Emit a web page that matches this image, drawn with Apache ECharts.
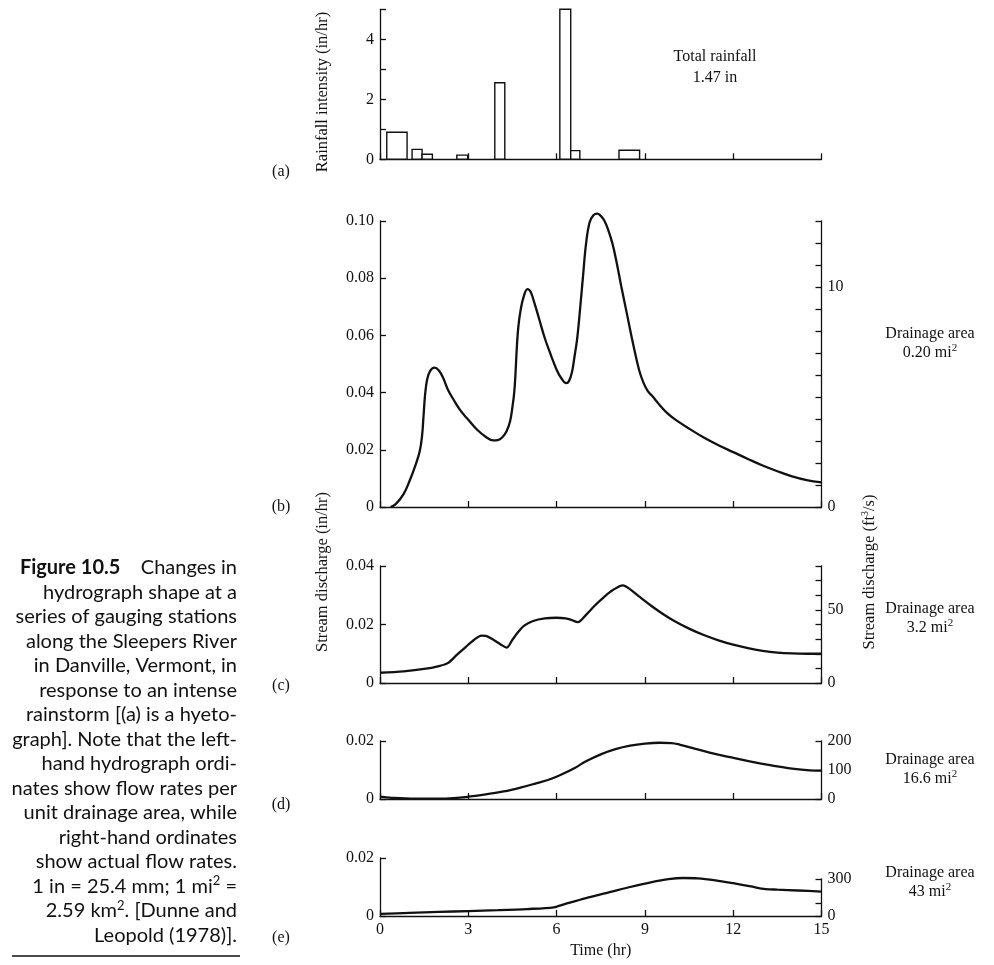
<!DOCTYPE html>
<html>
<head>
<meta charset="utf-8">
<script src="https://cdn.jsdelivr.net/npm/echarts@6/dist/echarts.min.js"></script>
<style>
html,body{margin:0;padding:0;background:#fff;}
#chart{width:994px;height:965px;}
</style>
</head>
<body>
<div id="chart"></div>
<script>
// ---------- DATA ----------
// (a) hyetograph: rainfall blocks (start hr, end hr, intensity in/hr)
const rainStart = [0.23, 1.09, 1.43, 2.61, 3.90, 6.11, 6.48, 8.12];
const rainEnd   = [0.92, 1.43, 1.78, 2.98, 4.24, 6.48, 6.79, 8.82];
const rainRate  = [0.90, 0.33, 0.17, 0.14, 2.55, 5.00, 0.29, 0.30];

// (b) drainage area 0.20 mi2 : [time hr, discharge in/hr]
const hydroB = [[0.36,0],[0.55,0.0012],[0.8,0.0045],[1.0,0.009],[1.2,0.0145],[1.35,0.0195],[1.43,0.025],
  [1.48,0.032],[1.53,0.039],[1.6,0.0445],[1.7,0.0475],[1.85,0.0487],[2.0,0.0477],[2.15,0.0450],[2.3,0.0412],
  [2.5,0.0375],[2.75,0.0335],[3.0,0.0305],[3.3,0.027],[3.6,0.0245],[3.85,0.0233],[4.0,0.0234],[4.15,0.0243],
  [4.3,0.0265],[4.42,0.0300],[4.5,0.0350],[4.56,0.040],[4.6,0.046],[4.65,0.056],[4.7,0.063],[4.78,0.069],
  [4.88,0.0735],[5.01,0.0762],[5.12,0.0752],[5.25,0.0712],[5.4,0.066],[5.6,0.059],[5.8,0.0533],[6.0,0.048],
  [6.15,0.0452],[6.33,0.0433],[6.42,0.0440],[6.52,0.047],[6.6,0.052],[6.7,0.059],[6.8,0.0695],[6.9,0.081],
  [7.0,0.092],[7.12,0.0995],[7.25,0.102],[7.38,0.1026],[7.5,0.1018],[7.62,0.1002],[7.75,0.097],[7.9,0.092],
  [8.05,0.085],[8.2,0.077],[8.4,0.067],[8.6,0.057],[8.8,0.048],[8.95,0.0435],[9.1,0.0405],[9.25,0.0388],
  [9.5,0.0357],[9.76,0.0328],[10.0,0.0308],[10.5,0.0274],[11.0,0.0243],[11.5,0.0216],[12.0,0.0192],
  [12.5,0.0168],[13.0,0.0145],[13.5,0.0125],[14.0,0.0107],[14.5,0.0094],[15.0,0.0086]];

// (c) drainage area 3.2 mi2
const hydroC = [[0,0.0035],[0.8,0.004],[1.5,0.0048],[2.0,0.0058],[2.3,0.0068],[2.6,0.0095],[2.9,0.0122],
  [3.2,0.0148],[3.45,0.0162],[3.6,0.0161],[3.85,0.0148],[4.1,0.0132],[4.3,0.0121],[4.5,0.0148],[4.7,0.0175],
  [4.9,0.0196],[5.2,0.0212],[5.6,0.0221],[6.0,0.0223],[6.3,0.0221],[6.5,0.0216],[6.72,0.0208],[7.0,0.0233],
  [7.3,0.0265],[7.6,0.0293],[7.9,0.0317],[8.25,0.0334],[8.5,0.032],[8.8,0.0296],[9.2,0.0265],[9.6,0.0237],
  [10.0,0.0212],[10.5,0.0186],[11.0,0.0164],[11.5,0.0146],[12.0,0.0131],[12.5,0.0119],[13.0,0.011],
  [13.5,0.0104],[14.0,0.0101],[14.5,0.01],[15.0,0.01]];

// (d) drainage area 16.6 mi2
const hydroD = [[0,0.0008],[0.4,0.0004],[1.2,0.0001],[2.0,0.0001],[2.5,0.0003],[3.0,0.0008],[3.6,0.0016],
  [4.2,0.0026],[4.8,0.0040],[5.3,0.0054],[5.8,0.0069],[6.2,0.0086],[6.6,0.0106],[7.0,0.013],[7.5,0.0154],
  [8.0,0.0172],[8.5,0.0184],[9.0,0.0191],[9.5,0.0194],[9.9,0.0193],[10.2,0.0187],[10.6,0.0176],[11.2,0.016],
  [11.9,0.0144],[12.6,0.0129],[13.3,0.0116],[14.0,0.0105],[14.6,0.0099],[15.0,0.0098]];

// (e) drainage area 43 mi2
const hydroE = [[0,0.0007],[1,0.0011],[2,0.0014],[3,0.0017],[4,0.002],[5,0.0024],[5.9,0.003],[6.3,0.0042],
  [7.0,0.0062],[7.8,0.0082],[8.5,0.0100],[9.2,0.0116],[9.8,0.0127],[10.3,0.0131],[10.8,0.013],[11.4,0.0123],
  [12.0,0.0113],[12.6,0.0102],[13.1,0.0093],[13.5,0.0091],[14.2,0.0088],[15,0.0084]];

// tick label lists
const timeLabels   = [0, 3, 6, 9, 12, 15];
const rainLabels   = [0, 2, 4];
const rightLabelsB = [0, 10];
const rightLabelsC = [0, 50];
const rightLabelsD = [0, 100, 200];
const rightTicksE  = [0, 100, 300];
const rightLabelsE = [0, 300];

const drainageAreas = ['0.20', '3.2', '16.6', '43'];
const panelLetters = ['(a)', '(b)', '(c)', '(d)', '(e)'];
const captionLines = [
  '{b|Figure 10.5}    Changes in',
  'hydrograph shape at a',
  'series of gauging stations',
  'along the Sleepers River',
  'in Danville, Vermont, in',
  'response to an intense',
  'rainstorm [(a) is a hyeto-',
  'graph]. Note that the left-',
  'hand hydrograph ordi-',
  'nates show flow rates per',
  'unit drainage area, while',
  'right-hand ordinates',
  'show actual flow rates.',
  '1 in = 25.4 mm; 1 mi{s|2} =',
  '2.59 km{s|2}. [Dunne and',
  'Leopold (1978)].'
];

// ---------- LAYOUT ----------
const SERIF = 'Liberation Serif, Times New Roman, serif';
const SANS = 'Lato, Open Sans, sans-serif';
const INK = '#111';
const L = 380, W = 441.5;
const grids = [
  {left:L, width:W, top:9.3, height:150},
  {left:L, width:W, top:221, height:286},
  {left:L, width:W, top:566, height:117},
  {left:L, width:W, top:741, height:58},
  {left:L, width:W, top:858, height:58},
  {left:L, width:W, top:879, height:37}
];

const lineStyleAxis = {color: INK, width: 1.3};
function xAxis(gi, showLabels, hidden) {
  return {
    type:'value', gridIndex:gi, min:0, max:15, interval:3,
    show: !hidden,
    axisLine:{show:true, onZero:false, lineStyle:lineStyleAxis},
    axisTick:{show:true, inside:true, length:6, lineStyle:lineStyleAxis},
    axisLabel:{show:showLabels, color:INK, fontFamily:SERIF, fontSize:16, margin:6,
      formatter: v => timeLabels.includes(v) ? String(v) : ''},
    splitLine:{show:false},
    name: showLabels ? 'Time (hr)' : '',
    nameLocation:'middle', nameGap:27,
    nameTextStyle:{color:INK, fontFamily:SERIF, fontSize:16}
  };
}
function yAxis(gi, pos, min, max, interval, fmt) {
  return {
    type:'value', gridIndex:gi, position:pos, min:min, max:max, interval:interval,
    axisLine:{show:true, onZero:false, lineStyle:lineStyleAxis},
    axisTick:{show:true, inside:true, length:6, lineStyle:lineStyleAxis},
    axisLabel:{show:true, color:INK, fontFamily:SERIF, fontSize:16, margin:6, formatter:fmt},
    splitLine:{show:false}
  };
}
const fmtIn = v => (Math.abs(v) < 1e-9 ? '0' : v.toFixed(2));
const near = (list) => (v => list.some(t => Math.abs(t - v) < 1e-6) ? String(v) : '');

const xAxes = [xAxis(0,false), xAxis(1,false), xAxis(2,false), xAxis(3,false), xAxis(4,true), xAxis(5,false,true)];
const yAxes = [
  yAxis(0,'left',0,5,1, near(rainLabels)),                       // 0 A left
  yAxis(1,'left',0,0.10,0.02, fmtIn),                            // 1 B left
  yAxis(1,'right',0,13,1, near(rightLabelsB)),                   // 2 B right
  yAxis(2,'left',0,0.04,0.02, fmtIn),                            // 3 C left
  yAxis(2,'right',0,80,10, near(rightLabelsC)),                  // 4 C right
  yAxis(3,'left',0,0.02,0.02, fmtIn),                            // 5 D left
  yAxis(3,'right',0,200,100, near(rightLabelsD)),                // 6 D right
  yAxis(4,'left',0,0.02,0.02, fmtIn),                            // 7 E left
  yAxis(5,'right',0,300,100, near(rightLabelsE))                 // 8 E right (short)
];
yAxes[8].axisTick.customValues = rightTicksE;
yAxes[8].axisLabel.customValues = rightLabelsE;

const rainData = rainStart.map((s, i) => [s, rainEnd[i], rainRate[i]]);

const lineSeries = (data, xi, yi, smooth) => ({
  type:'line', xAxisIndex:xi, yAxisIndex:yi, data:data, showSymbol:false, symbol:'none',
  smooth:smooth, clip:false, lineStyle:{color:INK, width:2.3}, silent:true, animation:false
});

// ---------- GRAPHIC TEXTS ----------
const graphics = [];
const letterY = [172, 507, 686, 805, 938];
panelLetters.forEach((t, i) => graphics.push({type:'text', x:281, y:letterY[i],
  style:{text:t, fontFamily:SERIF, fontSize:16, fill:INK, align:'center', verticalAlign:'middle'}}));
graphics.push({type:'text', x:323, y:92, rotation:Math.PI/2,
  style:{text:'Rainfall intensity (in/hr)', fontFamily:SERIF, fontSize:16.5, fill:INK, align:'center', verticalAlign:'middle'}});
graphics.push({type:'text', x:323, y:572, rotation:Math.PI/2,
  style:{text:'Stream discharge (in/hr)', fontFamily:SERIF, fontSize:16.5, fill:INK, align:'center', verticalAlign:'middle'}});
graphics.push({type:'text', x:870, y:572, rotation:Math.PI/2,
  style:{text:'Stream discharge (ft{s|3}/s)', fontFamily:SERIF, fontSize:16.5, fill:INK, align:'center', verticalAlign:'middle',
    rich:{s:{fontFamily:SERIF, fontSize:10, fill:INK, verticalAlign:'top', lineHeight:20}}}});
graphics.push({type:'text', x:715, y:67.5,
  style:{text:'Total rainfall\n1.47 in', fontFamily:SERIF, fontSize:16, lineHeight:21, fill:INK, align:'center', verticalAlign:'middle'}});
const drainY = [343, 618, 769, 882];
drainageAreas.forEach((a, i) => graphics.push({type:'text', x:930, y:drainY[i],
  style:{text:'Drainage area\n' + a + ' mi{s|2}', fontFamily:SERIF, fontSize:16, lineHeight:19, fill:INK, align:'center', verticalAlign:'middle',
    rich:{s:{fontFamily:SERIF, fontSize:11, fill:INK, verticalAlign:'top', lineHeight:19}}}}));
captionLines.forEach((t, i) => graphics.push({type:'text', x:237, y:568 + i*24.5,
  style:{text:t, fontFamily:SANS, fontSize:20, fill:INK, align:'right', verticalAlign:'middle',
    rich:{b:{fontFamily:SANS, fontSize:20, fontWeight:'bold', fill:INK},
          s:{fontFamily:SANS, fontSize:13, fill:INK, verticalAlign:'top', lineHeight:24}}}}));
graphics.push({type:'line', shape:{x1:12, y1:956, x2:240, y2:956}, style:{stroke:INK, lineWidth:1.6}});

// ---------- CHART ----------
const chart = echarts.init(document.getElementById('chart'), null, {renderer:'canvas'});
chart.setOption({
  backgroundColor:'#fff',
  animation:false,
  grid:grids,
  xAxis:xAxes,
  yAxis:yAxes,
  graphic:graphics,
  series:[
    {
      type:'custom', xAxisIndex:0, yAxisIndex:0, data:rainData, silent:true, clip:false,
      encode:{x:[0,1], y:2},
      renderItem:function(params, api){
        const p0 = api.coord([api.value(0), api.value(2)]);
        const p1 = api.coord([api.value(1), 0]);
        return {type:'rect', shape:{x:p0[0], y:p0[1], width:p1[0]-p0[0], height:p1[1]-p0[1]},
          style:{fill:'#fff', stroke:INK, lineWidth:1.4}};
      }
    },
    lineSeries(hydroB, 1, 1, 0.4),
    lineSeries(hydroC, 2, 3, 0.3),
    lineSeries(hydroD, 3, 5, 0.4),
    lineSeries(hydroE, 4, 7, 0.3)
  ]
});
</script>
</body>
</html>
